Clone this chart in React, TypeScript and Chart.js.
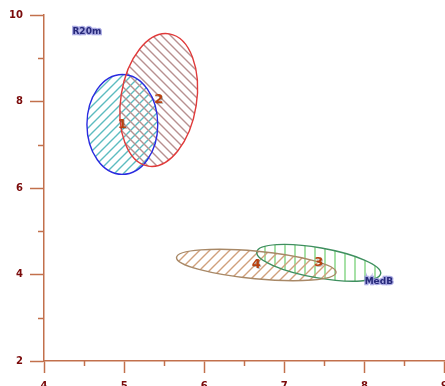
import { useEffect, useRef } from "react";
import { Chart, registerables } from "chart.js";
Chart.register(...registerables);

// ---- data ----
const groupLabels = ["1", "2", "3", "4"];
const centerX = [4.978, 5.432, 7.43, 6.65];
const centerY = [7.47, 8.035, 4.27, 4.22];
const radiusX = [0.442, 0.473, 0.785, 1.0]; // x-units, semi-axis nearest horizontal
const radiusY = [1.156, 1.549, 0.347, 0.32]; // y-units, semi-axis nearest vertical
const tiltDeg = [0, 9, 10, 5.4];
const tagTexts = ["R20m", "MedB"];
const tagX = [4.535, 8.18];
const tagY = [9.61, 3.83];
const xRange = [4, 9];
const yRange = [2, 10];

// ---- styles ----
const AXIS = "#c2704c";
const LABEL = "#7a0a0a";
const outlineColors = ["#2a2ae0", "#e03a3a", "#3f8f5f", "#a88866"];
const hatchColors = ["#5cbcc0", "#b89090", "#9ede9e", "#d0a07c"];
const hatchDirs = ["/", "\\", "|", "/"];
const hatchSpacing = [9, 9, 10, 10];

function makeHatch(color: string, s: number, dir: string) {
  const c = document.createElement("canvas");
  c.width = s;
  c.height = s;
  const g = c.getContext("2d")!;
  g.strokeStyle = color;
  g.lineWidth = 1.4;
  g.beginPath();
  if (dir === "|") {
    g.lineWidth = 1.8;
    g.moveTo(s / 2, 0);
    g.lineTo(s / 2, s);
  } else {
    if (dir === "\\") g.setTransform(-1, 0, 0, 1, s, 0);
    for (let k = 0; k <= 2; k++) {
      g.moveTo(-1, k * s + 1);
      g.lineTo(k * s + 1, -1);
    }
  }
  g.stroke();
  return g.createPattern(c, "repeat")!;
}

const ellipsePlugin = {
  id: "ellipses",
  afterDatasetsDraw(chart: any) {
    const ctx: CanvasRenderingContext2D = chart.ctx;
    const xs = chart.scales.x;
    const ys = chart.scales.y;
    const geo = centerX.map((cx, i) => {
      const px = xs.getPixelForValue(cx);
      const py = ys.getPixelForValue(centerY[i]);
      const rx = Math.abs(xs.getPixelForValue(cx + radiusX[i]) - px);
      const ry = Math.abs(ys.getPixelForValue(centerY[i] + radiusY[i]) - py);
      return { px, py, rx, ry, rot: (tiltDeg[i] * Math.PI) / 180 };
    });
    ctx.save();
    // fills
    geo.forEach((g, i) => {
      ctx.beginPath();
      ctx.ellipse(g.px, g.py, g.rx, g.ry, g.rot, 0, Math.PI * 2);
      ctx.fillStyle = makeHatch(hatchColors[i], hatchSpacing[i], hatchDirs[i]);
      ctx.fill();
    });
    // outlines
    geo.forEach((g, i) => {
      ctx.beginPath();
      ctx.ellipse(g.px, g.py, g.rx, g.ry, g.rot, 0, Math.PI * 2);
      ctx.strokeStyle = outlineColors[i];
      ctx.lineWidth = 1.4;
      ctx.stroke();
    });
    // group labels
    ctx.textAlign = "center";
    ctx.textBaseline = "middle";
    ctx.font = "bold 13px 'DejaVu Sans'";
    geo.forEach((g, i) => {
      ctx.fillStyle = "rgba(0,0,0,0.25)";
      ctx.fillText(groupLabels[i], g.px + 1, g.py + 1);
      ctx.fillStyle = "#b8400e";
      ctx.fillText(groupLabels[i], g.px, g.py);
    });
    // tags
    ctx.font = "bold 9px 'DejaVu Sans'";
    tagTexts.forEach((t, i) => {
      const px = xs.getPixelForValue(tagX[i]);
      const py = ys.getPixelForValue(tagY[i]);
      ctx.lineWidth = 2.5;
      ctx.strokeStyle = "rgba(150,150,220,0.8)";
      ctx.strokeText(t, px, py);
      ctx.fillStyle = "#26287a";
      ctx.fillText(t, px, py);
    });
    // minor ticks
    ctx.strokeStyle = AXIS;
    ctx.lineWidth = 1.5;
    ctx.beginPath();
    for (let v = yRange[0] + 1; v < yRange[1]; v += 2) {
      const py = Math.round(ys.getPixelForValue(v)) + 0.5;
      ctx.moveTo(xs.left - 6, py);
      ctx.lineTo(xs.left, py);
    }
    for (let v = xRange[0] + 0.5; v < xRange[1]; v += 1) {
      const px = Math.round(xs.getPixelForValue(v)) + 0.5;
      ctx.moveTo(px, ys.bottom);
      ctx.lineTo(px, ys.bottom + 5);
    }
    ctx.stroke();
    ctx.restore();
  },
};

export default function App() {
  const ref = useRef<HTMLCanvasElement>(null);
  useEffect(() => {
    document.body.style.margin = "0";
    document.body.style.overflow = "hidden";
    const chart = new Chart(ref.current!, {
      type: "scatter",
      data: {
        datasets: [
          {
            data: centerX.map((x, i) => ({ x, y: centerY[i] })),
            pointRadius: 0,
          },
        ],
      },
      options: {
        responsive: false,
        animation: false,
        layout: { padding: { top: 15, right: 6.5, left: 0, bottom: 0 } },
        plugins: { legend: { display: false }, tooltip: { enabled: false } },
        scales: {
          x: {
            type: "linear",
            min: xRange[0],
            max: xRange[1],
            border: { color: AXIS, width: 1.5 },
            grid: {
              drawOnChartArea: false,
              tickLength: 12,
              tickWidth: 1.5,
              tickColor: (c: any) =>
                Number.isInteger(c.tick?.value) ? AXIS : "rgba(0,0,0,0)",
            },
            ticks: {
              stepSize: 0.5,
              autoSkip: false,
              padding: 4,
              color: LABEL,
              font: { family: "'DejaVu Sans'", size: 10, weight: "bold", lineHeight: 1.8 },
              callback: (v: any) => (Number.isInteger(v) ? String(v) : ""),
            },
            afterFit: (s: any) => {
              s.height = 25;
            },
          },
          y: {
            type: "linear",
            min: yRange[0],
            max: yRange[1],
            border: { color: AXIS, width: 1.5 },
            grid: {
              drawOnChartArea: false,
              tickLength: 14,
              tickWidth: 1.5,
              tickColor: (c: any) =>
                c.tick && c.tick.value % 2 === 0 ? AXIS : "rgba(0,0,0,0)",
            },
            ticks: {
              stepSize: 1,
              autoSkip: false,
              padding: 7,
              color: LABEL,
              font: { family: "'DejaVu Sans'", size: 10, weight: "bold" },
              callback: (v: any) => (v % 2 === 0 ? String(v) : ""),
            },
            afterFit: (s: any) => {
              s.width = 44;
            },
          },
        },
      },
      plugins: [ellipsePlugin],
    });
    return () => chart.destroy();
  }, []);
  return (
    <div style={{ width: 452, height: 386, overflow: "hidden" }}>
      <canvas ref={ref} width={452} height={386} />
    </div>
  );
}
